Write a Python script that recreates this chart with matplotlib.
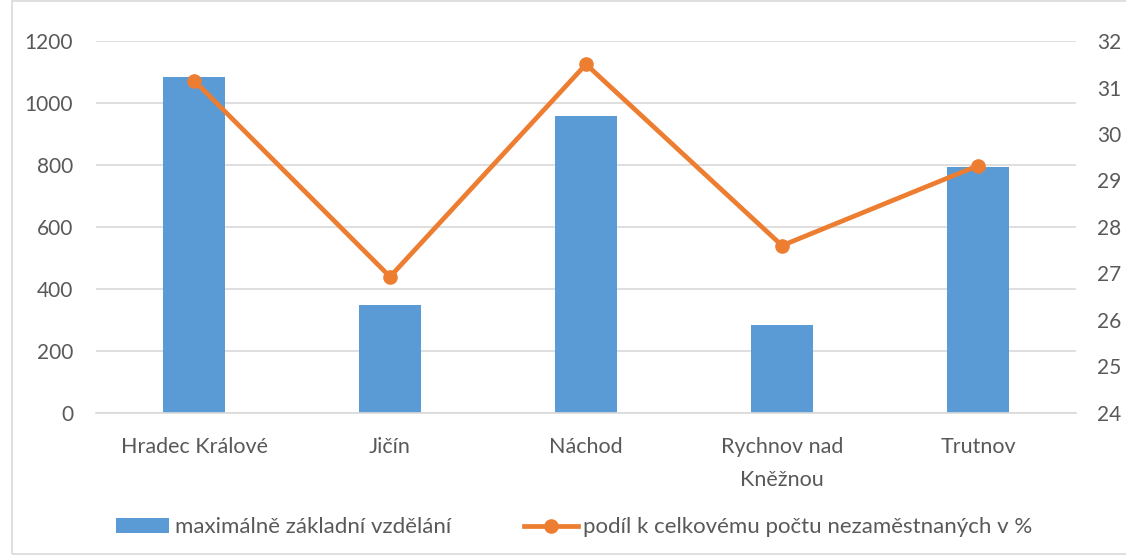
import numpy as np
import matplotlib.pyplot as plt
from matplotlib.patches import Rectangle
from matplotlib.lines import Line2D
from matplotlib.patches import Patch

plt.rcParams['font.family'] = ['Lato', 'DejaVu Sans']

# Data
districts = ['Hradec Králové', 'Jičín', 'Náchod', 'Rychnov nad\nKněžnou', 'Trutnov']
basic_edu = [1083, 349, 959, 284, 792]
share_pct = [31.15, 26.93, 31.5, 27.6, 29.32]

bar_color = '#5B9BD5'
line_color = '#ED7D31'
text_color = '#595959'
grid_color = '#D9D9D9'

fig = plt.figure(figsize=(11.26, 5.58), dpi=100)
ax = fig.add_axes([0.0853, 0.2599, 0.8703, 0.6666])
ax2 = ax.twinx()

x = np.arange(len(districts))
ax.bar(x, basic_edu, width=0.32, color=bar_color, zorder=2)
ax2.plot(x, share_pct, color=line_color, linewidth=3.4, marker='o',
         markersize=9.5, zorder=3)

ax.set_xlim(-0.5, len(districts) - 0.5)
ax.set_ylim(0, 1200)
ax.set_yticks(np.arange(0, 1201, 200))
ax2.set_ylim(24, 32)
ax2.set_yticks(np.arange(24, 33, 1))

ax.yaxis.grid(True, color=grid_color, linewidth=1.2, zorder=0)
ax.set_axisbelow(True)
ax.set_xticks(x)
ax.set_xticklabels(districts, linespacing=1.85)

for a in (ax, ax2):
    for s in a.spines.values():
        s.set_visible(False)
    a.tick_params(length=0, labelsize=15, colors=text_color)
ax.tick_params(axis='y', pad=16.5)
ax.tick_params(axis='x', pad=17, labelsize=15.5)
ax2.tick_params(axis='y', pad=15)
ax.spines['bottom'].set_visible(True)
ax.spines['bottom'].set_color(grid_color)
ax.spines['bottom'].set_linewidth(1.2)

handles = [Patch(facecolor=bar_color),
           Line2D([0], [0], color=line_color, linewidth=3.4, marker='o', markersize=9.5)]
labels = ['maximálně základní vzdělání', 'podíl k celkovému počtu nezaměstnaných v %']
fig.legend(handles, labels, loc='center', bbox_to_anchor=(0.51, 0.055), ncol=2,
           frameon=False, fontsize=16, labelcolor=text_color, columnspacing=3.3,
           handlelength=2.4, handletextpad=0.25)

# outer chart border (right edge runs off the picture)
fig.patches.append(Rectangle((0.011, 0.008), 1.0, 0.99, transform=fig.transFigure,
                             fill=False, edgecolor=grid_color, linewidth=1.2))

fig.savefig('out.png', dpi=100)
